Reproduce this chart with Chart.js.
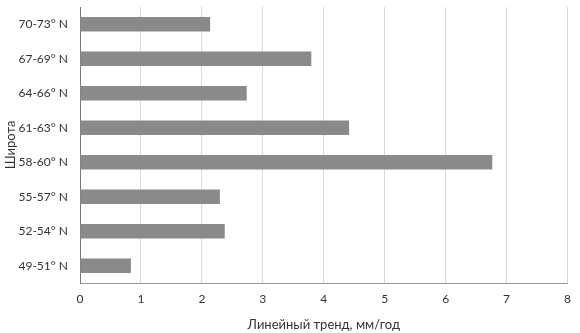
<!DOCTYPE html>
<html>
<head>
<meta charset="utf-8">
<script src="https://cdn.jsdelivr.net/npm/chart.js@4/dist/chart.umd.min.js"></script>
<style>
html,body{margin:0;padding:0;background:#fff;}
#wrap{width:580px;height:333px;position:relative;}
</style>
</head>
<body>
<div id="wrap"><canvas id="c"></canvas></div>
<script>
const categories = ['70-73° N', '67-69° N', '64-66° N', '61-63° N', '58-60° N', '55-57° N', '52-54° N', '49-51° N'];
const trendValues = [2.13, 3.79, 2.73, 4.41, 6.76, 2.29, 2.37, 0.83];
const xTicks = [0, 1, 2, 3, 4, 5, 6, 7, 8];
const xTitle = 'Линейный тренд, мм/год';
const yTitle = 'Широта';

const FONT = 'Lato, "Open Sans", sans-serif';
new Chart(document.getElementById('c'), {
  type: 'bar',
  data: {
    labels: categories,
    datasets: [{
      data: trendValues,
      backgroundColor: '#8a8a8a',
      borderWidth: 0,
      barThickness: 14
    }]
  },
  options: {
    indexAxis: 'y',
    responsive: true,
    maintainAspectRatio: false,
    animation: false,
    layout: { padding: { top: 7, right: 11, left: 0, bottom: 0 } },
    plugins: { legend: { display: false }, tooltip: { enabled: false } },
    scales: {
      x: {
        min: xTicks[0],
        max: xTicks[xTicks.length - 1],
        afterBuildTicks: (s) => { s.ticks = xTicks.map(v => ({ value: v })); },
        afterFit: (s) => { s.height = 50; },
        grid: { color: '#d9d9d9', lineWidth: 1, drawTicks: false },
        border: { display: true, color: '#9a9a9a', width: 1 },
        ticks: { color: '#333333', font: { family: FONT, size: 12 }, padding: 9 },
        title: { display: true, text: xTitle, color: '#333333', font: { family: FONT, size: 13 }, padding: { top: 4, bottom: 0 } }
      },
      y: {
        afterFit: (s) => { s.width = 80; s.paddingTop = 0; s.paddingBottom = 0; },
        grid: { display: false, drawTicks: false },
        border: { display: true, color: '#7a7a7a', width: 1 },
        ticks: { color: '#333333', font: { family: FONT, size: 12 }, padding: 12 },
        title: { display: true, text: yTitle, color: '#333333', font: { family: FONT, size: 13 }, padding: { top: 3, bottom: 2 } }
      }
    }
  }
});
</script>
</body>
</html>
